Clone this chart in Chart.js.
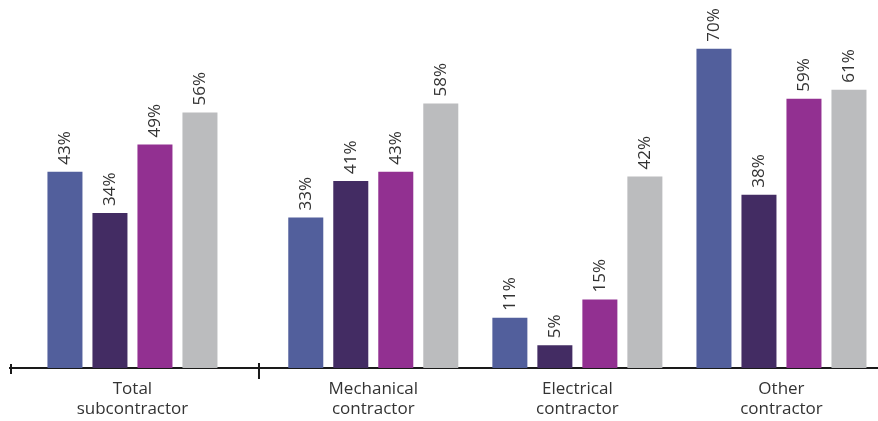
<!DOCTYPE html>
<html>
<head>
<meta charset="utf-8">
<script src="https://cdn.jsdelivr.net/npm/chart.js@4.4.0/dist/chart.umd.min.js"></script>
<style>
  html, body { margin: 0; padding: 0; background: #fff; }
</style>
</head>
<body>
<canvas id="chart" width="878" height="421"></canvas>
<script>
const categories = [['Total', 'subcontractor'], ['Mechanical', 'contractor'], ['Electrical', 'contractor'], ['Other', 'contractor']]
const series1 = [43, 33, 11, 70]
const series2 = [34, 41, 5, 38]
const series3 = [49, 43, 15, 59]
const series4 = [56, 58, 42, 61]

// where each group sits on the x axis (the first one is set apart)
const groupX = [0, 1.18, 2.18, 3.18]
const dividerX = 0.62
const colors = ['#525f9c', '#432c63', '#923091', '#bbbcbe']
const font = '"Open Sans", sans-serif'

const toPoints = (vals) => vals.map((v, i) => ({ x: groupX[i], y: v }))

// % labels standing on top of each bar
const valueLabels = {
    id: 'valueLabels',
    afterDatasetsDraw(chart) {
        const ctx = chart.ctx
        ctx.save()
        ctx.font = '17px ' + font
        ctx.fillStyle = '#333'
        ctx.textAlign = 'left'
        ctx.textBaseline = 'middle'
        chart.data.datasets.forEach((ds, i) => {
            chart.getDatasetMeta(i).data.forEach((bar, j) => {
                ctx.save()
                ctx.translate(bar.x, bar.y - 7)
                ctx.rotate(-Math.PI / 2)
                ctx.fillText(ds.data[j].y + '%', 0, 0)
                ctx.restore()
            })
        })
        ctx.restore()
    }
}

// the two little tick marks on the axis line
const axisMarks = {
    id: 'axisMarks',
    afterDraw(chart) {
        const ctx = chart.ctx
        const x = chart.scales.x
        const y0 = chart.chartArea.bottom + 1
        const mid = x.getPixelForValue(dividerX)
        ctx.save()
        ctx.strokeStyle = '#1a1a1a'
        ctx.lineWidth = 2
        ctx.beginPath()
        ctx.moveTo(x.left + 1, y0 - 5)
        ctx.lineTo(x.left + 1, y0 + 5)
        ctx.moveTo(mid, y0 - 6)
        ctx.lineTo(mid, y0 + 10)
        ctx.stroke()
        ctx.restore()
    }
}

new Chart(document.getElementById('chart'), {
    type: 'bar',
    data: {
        datasets: [
            { label: 'Series 1', data: toPoints(series1), backgroundColor: colors[0] },
            { label: 'Series 2', data: toPoints(series2), backgroundColor: colors[1] },
            { label: 'Series 3', data: toPoints(series3), backgroundColor: colors[2] },
            { label: 'Series 4', data: toPoints(series4), backgroundColor: colors[3] }
        ]
    },
    options: {
        responsive: false,
        animation: false,
        layout: { padding: { left: 10, top: 3, right: 0, bottom: 0 } },
        datasets: { bar: { categoryPercentage: 0.882, barPercentage: 0.778 } },
        plugins: {
            legend: { display: false },
            tooltip: { enabled: false }
        },
        scales: {
            x: {
                type: 'linear',
                min: -0.6,
                max: 3.653,
                bounds: 'data',
                offset: false,
                grid: { display: false, drawTicks: false },
                border: { display: true, color: '#1a1a1a', width: 2 },
                afterBuildTicks: (s) => { s.ticks = groupX.map(v => ({ value: v })) },
                afterFit: (s) => { s.height = 53 },
                ticks: {
                    autoSkip: false,
                    maxRotation: 0,
                    padding: 11,
                    color: '#333',
                    font: { family: font, size: 17, lineHeight: 1.2 },
                    callback: (v, i) => categories[i]
                }
            },
            y: { display: false, min: 0, max: 80 }
        }
    },
    plugins: [valueLabels, axisMarks]
})
</script>
</body>
</html>
